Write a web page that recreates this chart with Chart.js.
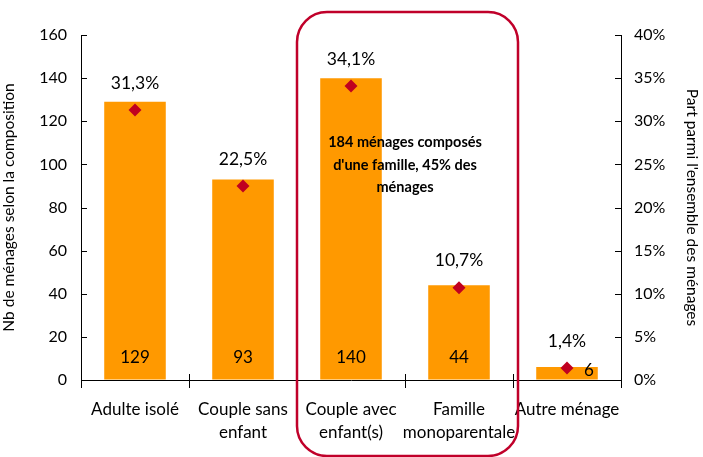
<!DOCTYPE html>
<html><head><meta charset="utf-8">
<script src="https://cdn.jsdelivr.net/npm/chart.js@4/dist/chart.umd.min.js"></script>
<style>html,body{margin:0;padding:0;background:#fff}#wrap{width:703px;height:457px}</style>
</head><body><div id="wrap"><canvas id="c" width="703" height="457"></canvas></div>
<script>
const categories = [["Adulte isolé"], ["Couple sans", "enfant"], ["Couple avec", "enfant(s)"], ["Famille", "monoparentale"], ["Autre ménage"]];
const counts = [129, 93, 140, 44, 6];
const shares = [31.3, 22.5, 34.1, 10.7, 1.4];
const countTicks = [0, 20, 40, 60, 80, 100, 120, 140, 160];
const shareTicks = [0, 5, 10, 15, 20, 25, 30, 35, 40];
const boxText = ["184 ménages composés", "d'une famille, 45% des", "ménages"];
const boxFrom = 2, boxTo = 3;

const FONT = "Lato, 'Open Sans', sans-serif";
const fmtPct = v => v.toFixed(1).replace('.', ',') + '%';

const overlay = {
  id: 'overlay',
  afterDraw(chart) {
    const ctx = chart.ctx;
    const x = chart.scales.x, y = chart.scales.y, y1 = chart.scales.y1;
    const area = chart.chartArea;
    ctx.save();
    // inward tick marks on both value axes, crossing part of category ticks
    ctx.strokeStyle = '#000';
    ctx.lineWidth = 1;
    ctx.beginPath();
    countTicks.forEach(v => {
      const py = Math.round(y.getPixelForValue(v)) + 0.5;
      ctx.moveTo(area.left, py); ctx.lineTo(area.left + 6, py);
    });
    shareTicks.forEach(v => {
      const py = Math.round(y1.getPixelForValue(v)) + 0.5;
      ctx.moveTo(area.right, py); ctx.lineTo(area.right - 6, py);
    });
    const half = (x.getPixelForValue(1) - x.getPixelForValue(0)) / 2;
    for (let i = 0; i <= categories.length; i++) {
      const px = Math.round(x.getPixelForValue(i) - half) + 0.5;
      ctx.moveTo(px, area.bottom); ctx.lineTo(px, area.bottom - 6);
    }
    ctx.stroke();

    ctx.fillStyle = '#000';
    ctx.textAlign = 'center';
    ctx.textBaseline = 'middle';
    ctx.font = '17px ' + FONT;
    const barMeta = chart.getDatasetMeta(1);
    counts.forEach((v, i) => {
      const bar = barMeta.data[i];
      if (v < 10) {
        ctx.fillText(String(v), bar.x + 22, y.getPixelForValue(0) - 9);
      } else {
        ctx.fillText(String(v), bar.x, y.getPixelForValue(0) - 22);
      }
    });
    ctx.font = '17.5px ' + FONT;
    const ptMeta = chart.getDatasetMeta(0);
    shares.forEach((v, i) => {
      const p = ptMeta.data[i];
      ctx.fillText(fmtPct(v), p.x, y1.getPixelForValue(v) - 27);
    });
    // rounded box
    const left = x.getPixelForValue(boxFrom) - half;
    const right = x.getPixelForValue(boxTo) + half + 5;
    const top = area.top - 23;
    const bottom = chart.height - 1;
    const r = 30;
    ctx.strokeStyle = '#C0002A';
    ctx.lineWidth = 2.5;
    ctx.beginPath();
    ctx.moveTo(left + r, top);
    ctx.lineTo(right - r, top);
    ctx.arcTo(right, top, right, top + r, r);
    ctx.lineTo(right, bottom - r);
    ctx.arcTo(right, bottom, right - r, bottom, r);
    ctx.lineTo(left + r, bottom);
    ctx.arcTo(left, bottom, left, bottom - r, r);
    ctx.lineTo(left, top + r);
    ctx.arcTo(left, top, left + r, top, r);
    ctx.closePath();
    ctx.stroke();
    // box text
    ctx.fillStyle = '#000';
    ctx.font = 'bold 14.5px ' + FONT;
    const cx = (x.getPixelForValue(boxFrom) + x.getPixelForValue(boxTo)) / 2;
    boxText.forEach((t, k) => {
      ctx.fillText(t, cx, y.getPixelForValue(110) + k * 22.5);
    });
    ctx.restore();
  }
};

new Chart(document.getElementById('c'), {
  data: {
    labels: categories,
    datasets: [
      { type: 'line', data: shares, yAxisID: 'y1', showLine: false,
        pointStyle: 'rectRot', pointRadius: 6.5, pointHoverRadius: 6.5,
        backgroundColor: '#C00020', borderColor: '#C00020', borderWidth: 0, order: 0 },
      { type: 'bar', data: counts, yAxisID: 'y', backgroundColor: '#FF9900',
        categoryPercentage: 1, barPercentage: 0.57, order: 1 }
    ]
  },
  options: {
    responsive: false, animation: false, devicePixelRatio: 1,
    layout: { padding: { top: 35, left: 0, right: 0, bottom: 0 } },
    plugins: { legend: { display: false }, tooltip: { enabled: false } },
    scales: {
      x: {
        offset: true,
        grid: { offset: true, drawOnChartArea: false, drawTicks: true, tickLength: 8, color: '#000' },
        border: { color: '#000', width: 1 },
        ticks: { color: '#000', font: { family: FONT, size: 17, lineHeight: 1.35 }, padding: 10, maxRotation: 0, autoSkip: false },
        afterFit(s) { s.height = 77; }
      },
      y: {
        position: 'left', min: 0, max: 160,
        afterBuildTicks(s) { s.ticks = countTicks.map(v => ({ value: v })); },
        grid: { drawOnChartArea: false, drawTicks: false },
        border: { color: '#000', width: 1 },
        ticks: { color: '#000', font: { family: FONT, size: 16 }, padding: 14 },
        title: { display: true, text: 'Nb de ménages selon la composition', color: '#000', font: { family: FONT, size: 15.5 }, padding: { top: 0, bottom: 2 } },
        afterFit(s) { s.width = 81; }
      },
      y1: {
        position: 'right', min: 0, max: 40,
        afterBuildTicks(s) { s.ticks = shareTicks.map(v => ({ value: v })); },
        grid: { drawOnChartArea: false, drawTicks: false },
        border: { color: '#000', width: 1 },
        ticks: { color: '#000', font: { family: FONT, size: 16 }, padding: 13, callback: v => v + '%' },
        title: { display: true, text: "Part parmi l'ensemble des ménages", color: '#000', font: { family: FONT, size: 15.5 }, padding: { top: 2, bottom: 0 } },
        afterFit(s) { s.width = 82; }
      }
    }
  },
  plugins: [overlay]
});
</script></body></html>
